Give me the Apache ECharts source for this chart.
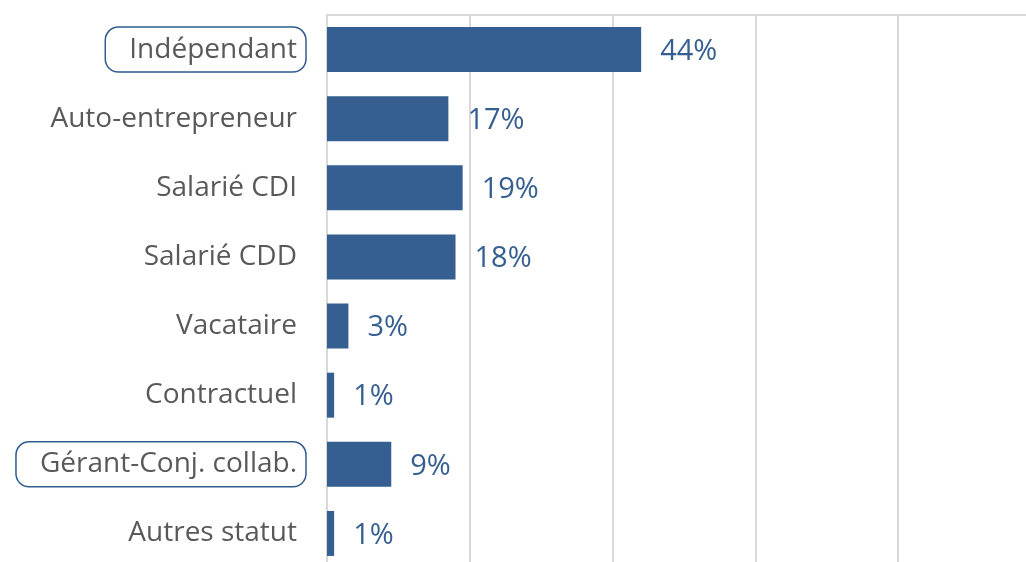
<!DOCTYPE html>
<html>
<head>
<meta charset="utf-8">
<script src="https://cdn.jsdelivr.net/npm/echarts@6/dist/echarts.min.js"></script>
<style>
  html, body { margin: 0; padding: 0; background: #ffffff; }
  #chart { width: 1026px; height: 562px; }
</style>
</head>
<body>
<div id="chart"></div>
<script>
// Statut professionnel — part des répondants (%)
const categories = [
  'Indépendant',
  'Auto-entrepreneur',
  'Salarié CDI',
  'Salarié CDD',
  'Vacataire',
  'Contractuel',
  'Gérant-Conj. collab.',
  'Autres statut'
];
const shares = [44, 17, 19, 18, 3, 1, 9, 1];
// Categories drawn with a rounded frame around their label
const highlighted = ['Indépendant', 'Gérant-Conj. collab.'];

const FONT = '"Open Sans", "DejaVu Sans", sans-serif';
const BLUE = '#365F91';
const GRID_GREY = '#d9d9d9';

const chart = echarts.init(document.getElementById('chart'), null, { renderer: 'canvas' });

chart.setOption({
  animation: false,
  backgroundColor: '#ffffff',
  // plot area runs a little past the right and bottom edges of the canvas
  grid: {
    left: 327, width: 714, top: 15, height: 553,
    containLabel: false,
    outerBoundsMode: 'none'
  },
  xAxis: {
    type: 'value',
    position: 'top',
    min: 0,
    max: 100,
    interval: 20,
    axisLine: { show: true, lineStyle: { color: GRID_GREY, width: 2 } },
    axisTick: { show: false },
    axisLabel: { show: false },
    splitLine: { show: true, lineStyle: { color: GRID_GREY, width: 2 } }
  },
  yAxis: {
    type: 'category',
    data: categories,
    inverse: true,
    axisLine: { show: true, lineStyle: { color: GRID_GREY, width: 2 } },
    axisTick: { show: false },
    splitLine: { show: false },
    axisLabel: {
      margin: 21,
      formatter: (v) => highlighted.includes(v) ? '{box|' + v + '}' : '{plain|' + v + '}',
      rich: {
        plain: {
          fontFamily: FONT,
          fontSize: 28,
          color: '#595959',
          lineHeight: 45,
          padding: [0, 9, 0, 24]
        },
        box: {
          fontFamily: FONT,
          fontSize: 28,
          color: '#595959',
          lineHeight: 45,
          height: 45,
          padding: [0, 9, 0, 24],
          borderColor: '#2F5B8F',
          borderWidth: 1.5,
          borderRadius: 13
        }
      }
    }
  },
  series: [{
    type: 'bar',
    data: shares,
    barWidth: 45,
    itemStyle: { color: BLUE },
    label: {
      show: true,
      position: 'right',
      distance: 19,
      offset: [0, 2],
      formatter: '{c}%',
      fontFamily: FONT,
      fontSize: 29,
      color: BLUE
    }
  }]
});
</script>
</body>
</html>
